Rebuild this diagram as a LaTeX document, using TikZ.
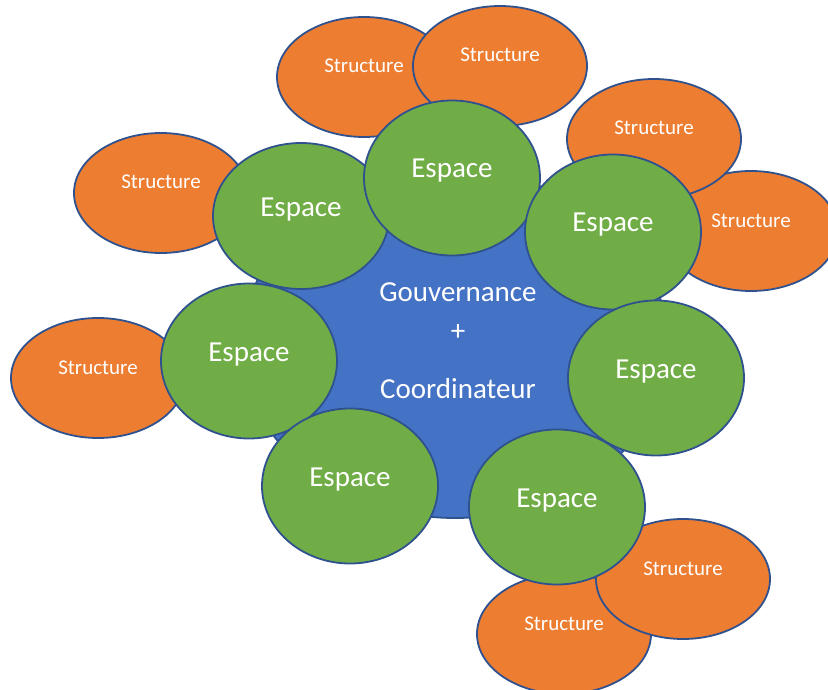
\documentclass[tikz,border=0pt]{standalone}
\usepackage{fontspec}
\setmainfont{Carlito}
\usetikzlibrary{shapes.geometric}
\definecolor{structorange}{HTML}{ED7D31}
\definecolor{espacegreen}{HTML}{70AD47}
\definecolor{centreblue}{HTML}{4472C4}
\definecolor{rim}{HTML}{2F528F}

\begin{document}
\begin{tikzpicture}[x=1pt, y=-1pt, line width=1.8pt,
    bubble/.style={ellipse, draw=rim, inner sep=0pt, text=white},
    structure/.style={bubble, fill=structorange, minimum width=174pt, minimum height=120pt, font=\fontsize{21}{25}\selectfont, text height=16pt, text depth=24pt},
    espace/.style={bubble, fill=espacegreen, minimum width=176pt, minimum height=155pt, font=\fontsize{29}{35}\selectfont, text height=20pt, text depth=20pt},
    centretext/.style={text=white, font=\fontsize{29}{35}\selectfont, anchor=base, inner sep=0pt}]
    \clip (0,0) rectangle (828,690);
    \node[structure] (s1) at (364,77) {Structure};
    \node[structure] (s2) at (500,66) {Structure};
    \node[structure] (s4) at (751,231) {Structure};
    \node[structure] (s3) at (654,139) {Structure};
    \node[structure] (s5) at (161,193) {Structure};
    \node[structure] (s6) at (98,378) {Structure};
    \node[structure] (s8) at (564,634) {Structure};
    \node[structure] (s7) at (683,579) {Structure};
    \node[bubble, fill=centreblue, minimum width=426pt, minimum height=346pt] (gc) at (455,345) {};
    \node[espace] (e7) at (249,361) {Espace};
    \node[espace, minimum height=146pt] (e1) at (301,216) {Espace};
    \node[espace] (e2) at (452,178) {Espace};
    \node[espace] (e3) at (613,232) {Espace};
    \node[espace] (e4) at (656,378) {Espace};
    \node[espace] (e5) at (557,507) {Espace};
    \node[espace] (e6) at (350,486) {Espace};
    \node[centretext] (gouv) at (458,301) {Gouvernance};
    \node[centretext] (plus) at (458,340) {+};
    \node[centretext] (coord) at (458,398) {Coordinateur};
\end{tikzpicture}
\end{document}
